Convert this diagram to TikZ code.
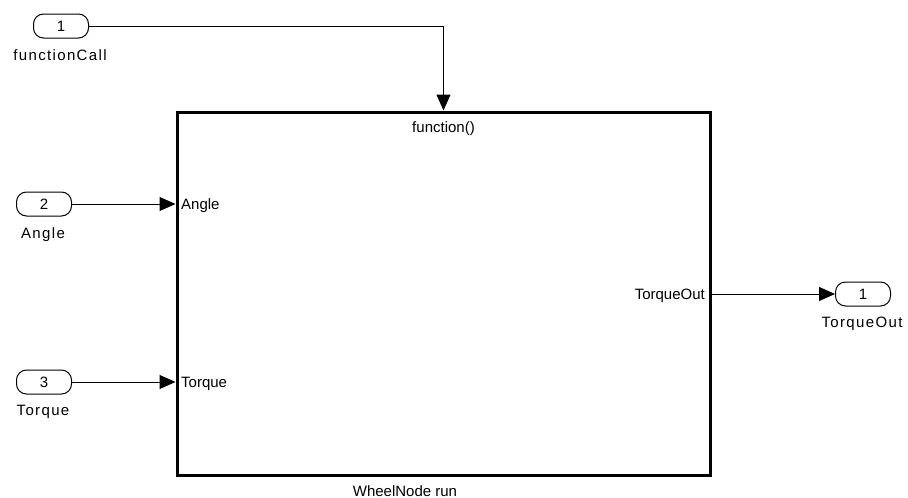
\documentclass[tikz,border=0pt]{standalone}
\usepackage{fontspec}
\setmainfont{Liberation Sans}
\newfontfamily\spacedsans[LetterSpace=9]{Liberation Sans}
\usetikzlibrary{arrows.meta}
\begin{document}
\begin{tikzpicture}[x=1pt,y=-1pt,
  port/.style={draw,line width=1pt,rounded corners=10pt,minimum width=55pt,minimum height=24pt,inner sep=0pt,font=\fontsize{15}{18}\selectfont},
  portname/.style={anchor=base,font=\spacedsans\fontsize{15}{18}\selectfont,inner sep=0pt},
  subsys/.style={draw,line width=3pt,minimum width=533pt,minimum height=363pt,inner sep=0pt},
  inlabel/.style={font=\fontsize{15}{18}\selectfont,inner sep=0pt},
  sig/.style={line width=1pt,-{Triangle[length=16pt,width=14pt]}}]
\useasboundingbox (0,0) rectangle (908,498);

% subsystem block
\node[subsys] (wn) at (443.5,293.5) {};
\node[inlabel,anchor=base] (fc) at (443.5,132) {function()};
\node[inlabel,anchor=base west] (pa) at (181,209) {Angle};
\node[inlabel,anchor=base west] (pt) at (181,387) {Torque};
\node[inlabel,anchor=base east] (po) at (705,299) {TorqueOut};
\node[inlabel,anchor=base] (wnname) at (405,496) {WheelNode run};

% inports and outport
\node[port] (in1) at (61,26) {1};
\node[portname] (in1name) at (60,60) {functionCall};
\node[port] (in2) at (44,204) {2};
\node[portname] (in2name) at (43,238) {Angle};
\node[port] (in3) at (44,382) {3};
\node[portname] (in3name) at (43,415) {Torque};
\node[port] (out1) at (863,294) {1};
\node[portname] (out1name) at (862,327) {TorqueOut};

% signal lines
\draw[sig] (in1.east) -| (wn.north);
\draw[sig] (in2.east) -- (in2.east -| wn.west);
\draw[sig] (in3.east) -- (in3.east -| wn.west);
\draw[sig] (out1.west -| wn.east) -- (out1.west);
\end{tikzpicture}
\end{document}
